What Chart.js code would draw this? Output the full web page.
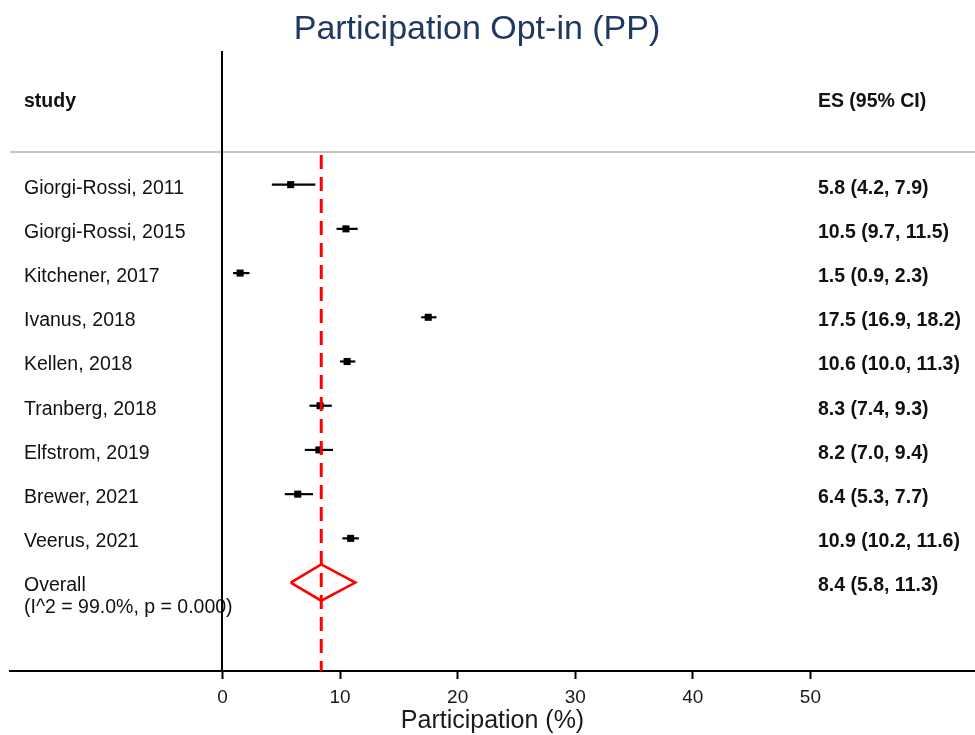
<!DOCTYPE html>
<html>
<head>
<meta charset="utf-8">
<title>Participation Opt-in (PP)</title>
<script src="https://cdn.jsdelivr.net/npm/chart.js@4.4.1/dist/chart.umd.min.js"></script>
<style>
  html, body { margin: 0; padding: 0; background: #fff; }
  #wrap { width: 975px; height: 735px; position: relative; }
</style>
</head>
<body>
<div id="wrap"><canvas id="forest"></canvas></div>
<script>
// study estimates (participation %, 95% CI)
const studies = [
  'Giorgi-Rossi, 2011',
  'Giorgi-Rossi, 2015',
  'Kitchener, 2017',
  'Ivanus, 2018',
  'Kellen, 2018',
  'Tranberg, 2018',
  'Elfstrom, 2019',
  'Brewer, 2021',
  'Veerus, 2021',
];
const es = [5.8, 10.5, 1.5, 17.5, 10.6, 8.3, 8.2, 6.4, 10.9];
const lo = [4.2, 9.7, 0.9, 16.9, 10.0, 7.4, 7.0, 5.3, 10.2];
const hi = [7.9, 11.5, 2.3, 18.2, 11.3, 9.3, 9.4, 7.7, 11.6];

const overallEs = 8.4;
const overallLo = 5.8;
const overallHi = 11.3;
const heterogeneity = '(I^2 = 99.0%, p = 0.000)';

const xTicks = [0, 10, 20, 30, 40, 50];

const fmt = (v) => v.toFixed(1);
const esLabel = (e, l, h) => `${fmt(e)} (${fmt(l)}, ${fmt(h)})`;

const FONT = "'Liberation Sans', Arial, sans-serif";
Chart.defaults.font.family = FONT;
Chart.defaults.color = '#1a1a1a';

const overallRow = studies.length;
const headerRow = -1.91;
const ruleRow = -0.74;
const labelX = -16.88; // left text column, in x units
const esX = 50.64; // right text column

// title, text columns + grey rule, drawn before the axes so the axis sits on top
const tablePlugin = {
  id: 'table',
  beforeDraw(chart) {
    const { ctx, scales } = chart;
    const x = scales.x;
    const y = scales.y;
    ctx.save();

    ctx.textAlign = 'center';
    ctx.textBaseline = 'middle';
    ctx.fillStyle = '#1f3864';
    ctx.font = `34px ${FONT}`;
    ctx.fillText('Participation Opt-in (PP)', 477, 29.5);
    ctx.textAlign = 'left';

    ctx.strokeStyle = '#c4c4c4';
    ctx.lineWidth = 2;
    ctx.beginPath();
    ctx.moveTo(chart.chartArea.left, y.getPixelForValue(ruleRow));
    ctx.lineTo(chart.chartArea.right, y.getPixelForValue(ruleRow));
    ctx.stroke();

    ctx.fillStyle = '#111';
    ctx.font = `bold 19.5px ${FONT}`;
    ctx.fillText('study', x.getPixelForValue(labelX), y.getPixelForValue(headerRow) + 1);
    ctx.fillText('ES (95% CI)', x.getPixelForValue(esX), y.getPixelForValue(headerRow) + 1);

    studies.forEach((name, i) => {
      const py = y.getPixelForValue(i) + 3.5;
      ctx.font = `19.5px ${FONT}`;
      ctx.fillText(name, x.getPixelForValue(labelX), py);
      ctx.font = `bold 19.5px ${FONT}`;
      ctx.fillText(esLabel(es[i], lo[i], hi[i]), x.getPixelForValue(esX), py);
    });

    const oy = y.getPixelForValue(overallRow) + 3.5;
    ctx.font = `19.5px ${FONT}`;
    ctx.fillText('Overall', x.getPixelForValue(labelX), oy);
    ctx.fillText(heterogeneity, x.getPixelForValue(labelX), oy + 22);
    ctx.font = `bold 19.5px ${FONT}`;
    ctx.fillText(esLabel(overallEs, overallLo, overallHi), x.getPixelForValue(esX), oy);

    ctx.restore();
  },
  beforeDatasetsDraw(chart) {
    // confidence interval whiskers
    const { ctx, scales } = chart;
    ctx.save();
    ctx.strokeStyle = '#000';
    ctx.lineWidth = 2.2;
    studies.forEach((_, i) => {
      const py = scales.y.getPixelForValue(i);
      ctx.beginPath();
      ctx.moveTo(scales.x.getPixelForValue(lo[i]), py);
      ctx.lineTo(scales.x.getPixelForValue(hi[i]), py);
      ctx.stroke();
    });
    ctx.restore();
  },
};

const diamondH = 0.41;

new Chart(document.getElementById('forest'), {
  type: 'scatter',
  data: {
    datasets: [
      {
        label: 'Pooled estimate',
        type: 'line',
        data: [
          { x: overallEs, y: ruleRow + 0.07 },
          { x: overallEs, y: 11 },
        ],
        borderColor: '#ff0000',
        borderWidth: 3,
        borderDash: [14, 8],
        pointRadius: 0,
        fill: false,
      },
      {
        label: 'Overall',
        type: 'line',
        data: [
          { x: overallLo, y: overallRow },
          { x: overallEs, y: overallRow - diamondH },
          { x: overallHi, y: overallRow },
          { x: overallEs, y: overallRow + diamondH },
          { x: overallLo, y: overallRow },
        ],
        borderColor: '#ff0000',
        borderWidth: 2.5,
        pointRadius: 0,
        tension: 0,
        fill: false,
      },
      {
        label: 'Studies',
        data: es.map((v, i) => ({ x: v, y: i })),
        pointStyle: 'rect',
        pointRadius: 5,
        backgroundColor: '#000',
        borderColor: '#000',
        borderWidth: 0,
      },
    ],
  },
  options: {
    responsive: true,
    maintainAspectRatio: false,
    animation: false,
    layout: {
      autoPadding: false,
      padding: { left: 10, right: 0, top: 52, bottom: 0 },
    },
    plugins: {
      legend: { display: false },
      tooltip: { enabled: false },
      title: { display: false },
    },
    scales: {
      x: {
        type: 'linear',
        min: -18.07,
        max: 64,
        afterBuildTicks: (axis) => {
          axis.ticks = xTicks.map((v) => ({ value: v }));
        },
        afterFit: (axis) => {
          axis.height = 64;
        },
        ticks: {
          font: { size: 19 },
          color: '#1a1a1a',
          padding: 7,
        },
        grid: {
          drawOnChartArea: false,
          drawTicks: true,
          tickLength: 8,
          tickWidth: 2,
          tickColor: '#000',
        },
        border: { display: true, color: '#000', width: 2 },
        title: {
          display: true,
          text: 'Participation (%)',
          font: { size: 25, lineHeight: 1.1 },
          color: '#1a1a1a',
          padding: { top: 0, bottom: 0 },
        },
      },
      y: {
        type: 'linear',
        min: -3,
        max: 11,
        reverse: true,
        position: { x: 0 },
        afterFit: (axis) => {
          axis.width = 0;
        },
        ticks: { display: false },
        grid: { display: false },
        border: { display: true, color: '#000', width: 2 },
      },
    },
  },
  plugins: [tablePlugin],
});
</script>
</body>
</html>
